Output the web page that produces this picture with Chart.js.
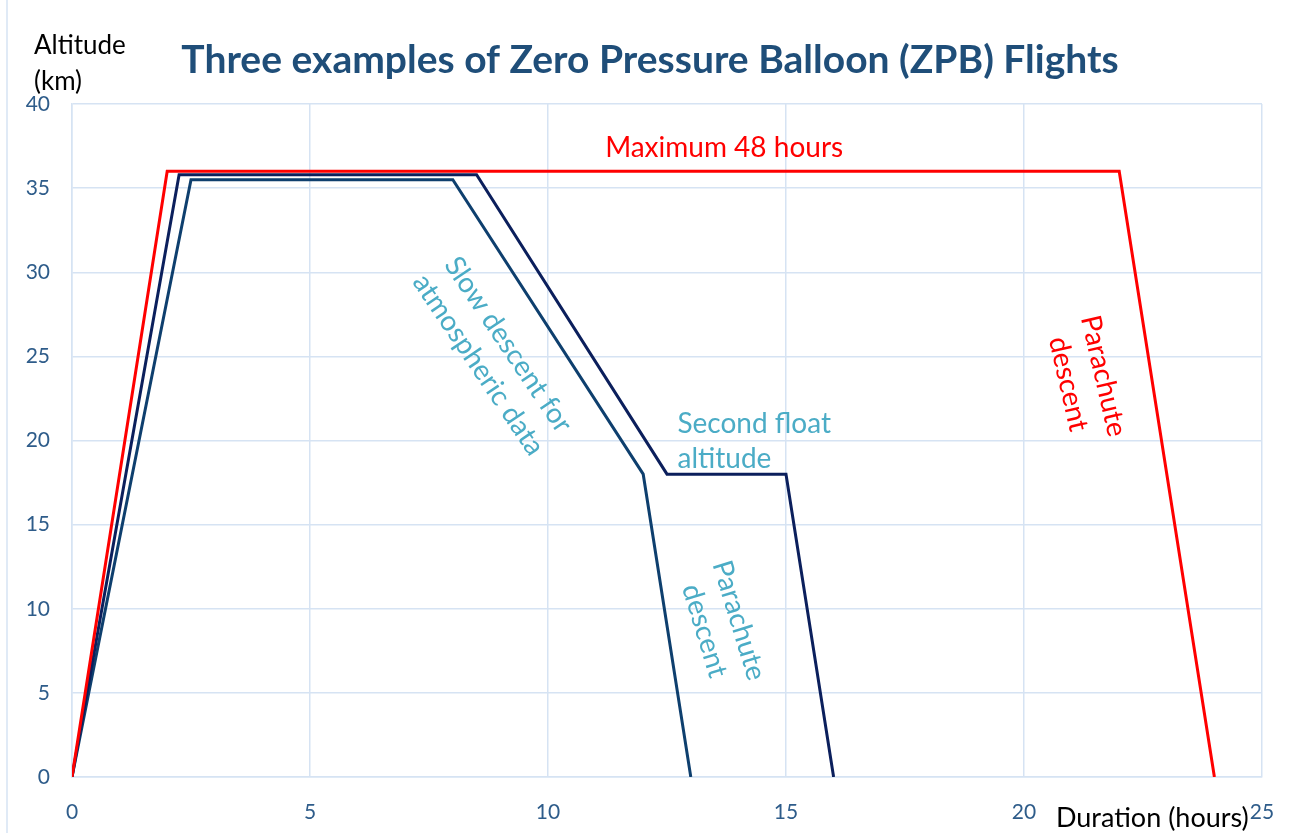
<!DOCTYPE html>
<html>
<head>
<meta charset="utf-8">
<script src="https://cdn.jsdelivr.net/npm/chart.js@4.4.1/dist/chart.umd.min.js"></script>
<style>
  html, body { margin: 0; padding: 0; background: #fff; }
  #wrap { width: 1291px; height: 833px; }
</style>
</head>
<body>
<div id="wrap"><canvas id="zpb-chart"></canvas></div>
<script>
// flight profiles: duration (hours) vs altitude (km)
var longHours = [0, 2, 22, 24];
var longAlt = [0, 36, 36, 0];
var floatHours = [0, 2.25, 8.5, 12.5, 15, 16];
var floatAlt = [0, 35.8, 35.8, 18, 18, 0];
var slowHours = [0, 2.5, 8, 12, 13];
var slowAlt = [0, 35.5, 35.5, 18, 0];
var xTicks = [0, 5, 10, 15, 20, 25];
var yTicks = [0, 5, 10, 15, 20, 25, 30, 35, 40];

var titleText = "Three examples of Zero Pressure Balloon (ZPB) Flights";
var FONT = "Lato, 'Open Sans', sans-serif";
var gridColor = "#D6E3F3";
var noteColor = "#4BACC6";

function toPoints(xs, ys) {
  return xs.map(function (x, i) { return { x: x, y: ys[i] }; });
}

// text notes placed at data coords
var notes = [
  { x: 13.7, y: 37.4, angle: 0, color: "#FF0000", lines: ["Maximum 48 hours"] },
  { x: 8.85, y: 25.1, angle: 56, color: noteColor, lines: ["Slow descent for", "atmospheric data"] },
  { x: 13.65, y: 9.0, angle: 73, color: noteColor, lines: ["Parachute", "descent"] },
  { x: 21.3, y: 23.6, angle: 77, color: "#FF0000", lines: ["Parachute", "descent"] }
];

var textPlugin = {
  id: "texts",
  afterDraw: function (chart) {
    var ctx = chart.ctx;
    var xs = chart.scales.x, ys = chart.scales.y;
    ctx.save();
    // slide border on the left
    ctx.strokeStyle = gridColor;
    ctx.lineWidth = 1.5;
    ctx.beginPath();
    ctx.moveTo(7, 0);
    ctx.lineTo(7, 833);
    ctx.stroke();

    ctx.fillStyle = "#1F4E79";
    ctx.font = "bold 39px " + FONT;
    ctx.textAlign = "center";
    ctx.textBaseline = "middle";
    ctx.fillText(titleText, 650, 60);

    ctx.fillStyle = "#000";
    ctx.font = "26px " + FONT;
    ctx.textAlign = "left";
    ctx.fillText("Altitude", 34, 46);
    ctx.fillText("(km)", 34, 82);
    ctx.font = "27px " + FONT;
    ctx.fillText("Duration (hours)", 1056, 818);

    ctx.font = "28px " + FONT;
    notes.forEach(function (n) {
      ctx.save();
      ctx.translate(xs.getPixelForValue(n.x), ys.getPixelForValue(n.y));
      ctx.rotate(n.angle * Math.PI / 180);
      ctx.fillStyle = n.color;
      ctx.textAlign = "center";
      var h = 36;
      n.lines.forEach(function (t, i) {
        ctx.fillText(t, 0, (i - (n.lines.length - 1) / 2) * h);
      });
      ctx.restore();
    });

    ctx.fillStyle = noteColor;
    ctx.textAlign = "left";
    ctx.fillText("Second float", xs.getPixelForValue(12.72), ys.getPixelForValue(21.0));
    ctx.fillText("altitude", xs.getPixelForValue(12.72), ys.getPixelForValue(18.9));
    ctx.restore();
  }
};

new Chart("zpb-chart", {
  type: "scatter",
  data: {
    datasets: [
      { label: "48 hours", data: toPoints(longHours, longAlt), borderColor: "#FF0000" },
      { label: "Second float", data: toPoints(floatHours, floatAlt), borderColor: "#0B1F5C" },
      { label: "Slow descent", data: toPoints(slowHours, slowAlt), borderColor: "#0E3F6E" }
    ].map(function (d) {
      d.showLine = true;
      d.borderWidth = 3;
      d.pointRadius = 0;
      d.tension = 0;
      return d;
    })
  },
  options: {
    responsive: true,
    maintainAspectRatio: false,
    animation: false,
    layout: { padding: { top: 104, right: 29, left: 0, bottom: 0 } },
    plugins: { legend: { display: false }, title: { display: false }, tooltip: { enabled: false } },
    scales: {
      x: {
        type: "linear",
        min: 0, max: 25,
        afterBuildTicks: function (s) { s.ticks = xTicks.map(function (v) { return { value: v }; }); },
        afterFit: function (s) { s.height = 56; s.paddingLeft = 0; s.paddingRight = 0; },
        grid: { color: gridColor, lineWidth: 1.5, drawTicks: false },
        border: { color: gridColor, width: 1.5 },
        ticks: { color: "#2E5C8A", font: { family: FONT, size: 21 }, padding: 23, maxRotation: 0 }
      },
      y: {
        min: 0, max: 40,
        afterBuildTicks: function (s) { s.ticks = yTicks.map(function (v) { return { value: v }; }); },
        afterFit: function (s) { s.width = 72; s.paddingTop = 0; s.paddingBottom = 0; },
        grid: { color: gridColor, lineWidth: 1.5, drawTicks: false },
        border: { color: gridColor, width: 1.5 },
        ticks: { color: "#2E5C8A", font: { family: FONT, size: 21 }, padding: 22 }
      }
    }
  },
  plugins: [textPlugin]
});
</script>
</body>
</html>
